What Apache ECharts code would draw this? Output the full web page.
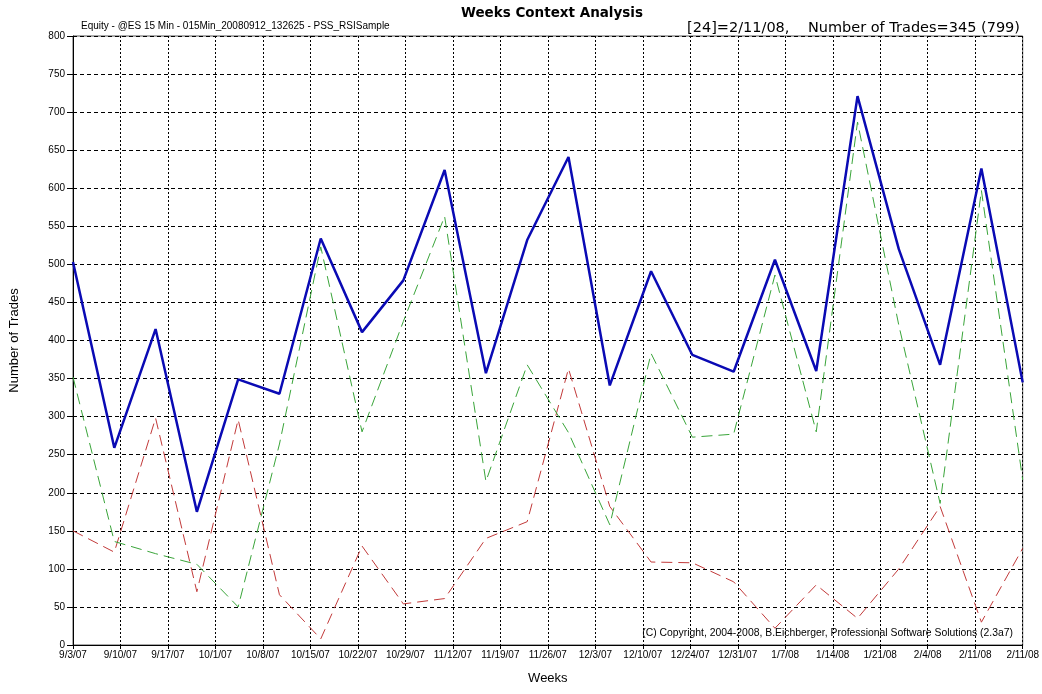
<!DOCTYPE html>
<html>
<head>
<meta charset="utf-8">
<script src="https://cdn.jsdelivr.net/npm/echarts@6/dist/echarts.min.js"></script>
<style>
html,body{margin:0;padding:0;background:#fff;overflow:hidden;}
#chart{width:1042px;height:694px;}
</style>
</head>
<body>
<div id="chart"></div>
<script>
// Weekly categories (one per data point)
const weeks = ['9/3/07','9/10/07','9/17/07','9/24/07','10/1/07','10/8/07','10/15/07','10/22/07','10/29/07','11/5/07','11/12/07','11/19/07','11/26/07','12/3/07','12/10/07','12/17/07','12/24/07','12/31/07','1/7/08','1/14/08','1/21/08','1/28/08','2/4/08','2/11/08'];
// Tick labels shown under the vertical grid lines
const xTickLabels = ['9/3/07','9/10/07','9/17/07','10/1/07','10/8/07','10/15/07','10/22/07','10/29/07','11/12/07','11/19/07','11/26/07','12/3/07','12/10/07','12/24/07','12/31/07','1/7/08','1/14/08','1/21/08','2/4/08','2/11/08','2/11/08'];
// Series values
const allTrades   = [503,259,415,175,349,330,534,411,479,624,357,532,641,341,491,381,359,506,360,721,520,368,626,345];
const longTrades  = [352,136,120,106,50,264,523,280,425,563,215,368,279,158,383,273,277,486,280,687,420,186,597,217];
const shortTrades = [150,122,298,70,296,66,8,130,54,61,140,162,363,182,109,108,83,22,79,35,100,182,30,127];

const chart = echarts.init(document.getElementById('chart'), null, {renderer:'canvas'});
const font = 'Liberation Sans, Arial, sans-serif';
const option = {
  animation: false,
  backgroundColor: '#ffffff',
  title: [
    {text: 'Weeks Context Analysis', left: 456, top: 1,
     textStyle: {fontFamily: 'DejaVu Sans, Verdana, sans-serif', fontWeight: 'bold', fontSize: 13.5, color: '#000'}},
    {text: 'Equity - @ES 15 Min - 015Min_20080912_132625 - PSS_RSISample', left: 76, top: 16,
     textStyle: {fontFamily: font, fontWeight: 'normal', fontSize: 10, color: '#000'}},
    {text: '[24]=2/11/08,    Number of Trades=345 (799)', right: 17, top: 16,
     textStyle: {fontFamily: 'DejaVu Sans, sans-serif', fontWeight: 'normal', fontSize: 14.5, color: '#000'}}
  ],
  graphic: [
    {type: 'text', right: 29, bottom: 56,
     style: {text: '(C) Copyright, 2004-2008, B.Eichberger, Professional Software Solutions (2.3a7)',
             font: '10.4px Liberation Sans, Arial, sans-serif', fill: '#000'}}
  ],
  grid: {left: 71, right: 16, top: 36, bottom: 49, show: true, borderColor: '#555', borderWidth: 1, backgroundColor: 'transparent'},
  xAxis: [
    {type: 'category', data: weeks, boundaryGap: false, show: false},
    {type: 'value', min: 0, max: xTickLabels.length - 1, interval: 1, position: 'bottom',
     name: 'Weeks', nameLocation: 'middle', nameGap: 27,
     nameTextStyle: {fontFamily: font, fontSize: 13, color: '#000'},
     axisLine: {show: true, lineStyle: {color: '#000', width: 1}},
     axisTick: {show: true, length: 4, lineStyle: {color: '#000'}},
     axisLabel: {margin: 5, fontFamily: font, fontSize: 10, color: '#000',
                 formatter: function (v) { const i = Math.round(v); return xTickLabels[i] !== undefined ? xTickLabels[i] : ''; },
                 showMinLabel: true, showMaxLabel: true},
     splitLine: {show: true, lineStyle: {color: '#000', type: [2, 2], width: 1}}
    }
  ],
  yAxis: {
    type: 'value', min: 0, max: 800, interval: 50,
    name: 'Number of Trades', nameLocation: 'middle', nameGap: 52,
    nameTextStyle: {fontFamily: font, fontSize: 13, color: '#000'},
    axisLine: {show: true, lineStyle: {color: '#000', width: 1}},
    axisTick: {show: true, length: 6, lineStyle: {color: '#000'}},
    axisLabel: {margin: 8, fontFamily: font, fontSize: 10, color: '#000'},
    splitLine: {show: true, lineStyle: {color: '#000', type: [4, 3], width: 1}}
  },
  series: [
    {name: 'Short', type: 'line', xAxisIndex: 0, data: shortTrades, symbol: 'none',
     lineStyle: {color: '#c23a3a', width: 1, type: [11, 6]}},
    {name: 'Long', type: 'line', xAxisIndex: 0, data: longTrades, symbol: 'none',
     lineStyle: {color: '#3aa53a', width: 1, type: [11, 6]}},
    {name: 'All', type: 'line', xAxisIndex: 0, data: allTrades, symbol: 'none',
     lineStyle: {color: '#0a0ab4', width: 2.5}}
  ]
};
chart.setOption(option);
</script>
</body>
</html>
